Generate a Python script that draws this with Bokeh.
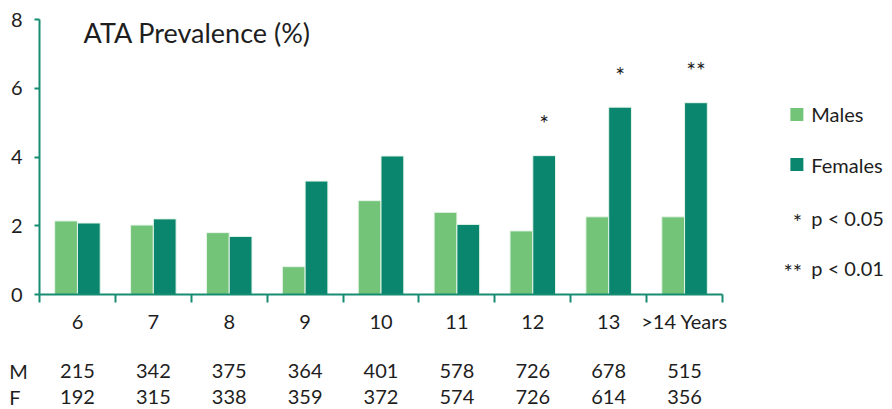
from bokeh.plotting import figure
from bokeh.models import Range1d, FixedTicker, ColumnDataSource
from bokeh.embed import file_html
from bokeh.resources import INLINE
from bokeh.core.properties import value

# ---- data ----
categories = ["6", "7", "8", "9", "10", "11", "12", "13", ">14 Years"]
males = [2.14, 2.02, 1.80, 0.81, 2.73, 2.39, 1.85, 2.26, 2.26]
females = [2.08, 2.20, 1.69, 3.30, 4.03, 2.04, 4.04, 5.45, 5.58]
significance = ["", "", "", "", "", "", "*", "*", "**"]
n_males = [215, 342, 375, 364, 401, 578, 726, 678, 515]
n_females = [192, 315, 338, 359, 372, 574, 726, 614, 356]
row_tags = ["M", "F"]
y_ticks = [0, 2, 4, 6, 8]
title_text = "ATA Prevalence (%)"
legend_series = ["Males", "Females"]
note_stars = ["*", "**"]
note_texts = ["p < 0.05", "p < 0.01"]

# ---- style ----
FONT = "Lato"
C_MALE = "#73C378"
C_FEMALE = "#0A866E"
C_AXIS = "#168C72"
C_TEXT = "#1E1E1E"
BAR_W = 0.3
W, H = 892, 409

n = len(categories)
centers = [i + 0.5 for i in range(n)]

p = figure(width=W, height=H, output_backend="svg", toolbar_location=None,
           x_range=Range1d(-0.514, 11.24), y_range=Range1d(-3.345, 8.553),
           min_border=0)
p.outline_line_color = None
p.grid.visible = False
p.background_fill_color = "white"
p.border_fill_color = "white"

src = ColumnDataSource(dict(
    xm=[c - BAR_W / 2 for c in centers],
    xf=[c + BAR_W / 2 for c in centers],
    males=males, females=females,
    sig=significance,
    sig_y=[f + 0.95 for f in females],
))
p.vbar(x="xm", top="males", width=BAR_W, bottom=0, source=src,
       fill_color=C_MALE, line_color="#E6F5EA", line_width=1)
p.vbar(x="xf", top="females", width=BAR_W, bottom=0, source=src,
       fill_color=C_FEMALE, line_color="#E6F5EA", line_width=1)
p.text(x="xf", y="sig_y", text="sig", source=src, text_align="center",
       text_baseline="middle", text_font=value(FONT), text_font_size="23px",
       text_color=C_TEXT)

# ---- axes ----
xa = p.xaxis[0]
xa.fixed_location = 0
xa.bounds = (0, n)
xa.ticker = FixedTicker(ticks=centers, minor_ticks=list(range(n + 1)))
xa.major_label_overrides = {c: lab for c, lab in zip(centers, categories)}
xa.major_tick_line_color = None
xa.major_tick_out = 0
xa.major_tick_in = 0
xa.minor_tick_line_color = C_AXIS
xa.minor_tick_line_width = 2
xa.minor_tick_out = 8
xa.minor_tick_in = 0
xa.axis_line_color = C_AXIS
xa.axis_line_width = 2
xa.major_label_standoff = 6
xa.major_label_text_font = FONT
xa.major_label_text_font_size = "20px"
xa.major_label_text_color = C_TEXT

ya = p.yaxis[0]
ya.fixed_location = 0
ya.bounds = (0, 8)
ya.ticker = FixedTicker(ticks=y_ticks, minor_ticks=[])
ya.major_tick_line_color = C_AXIS
ya.major_tick_line_width = 2
ya.major_tick_out = 5
ya.major_tick_in = 0
ya.minor_tick_line_color = None
ya.axis_line_color = C_AXIS
ya.axis_line_width = 2
ya.major_label_standoff = 12
ya.major_label_text_font = FONT
ya.major_label_text_font_size = "20px"
ya.major_label_text_color = C_TEXT

# ---- title ----
p.text(x=[0.58], y=[7.62], text=[title_text], text_baseline="middle",
       text_font=value(FONT), text_font_size="27px", text_color=C_TEXT)

# ---- legend ----
leg_src = ColumnDataSource(dict(x=[9.98, 9.98], y=[5.24, 3.78],
                                color=[C_MALE, C_FEMALE], lab=legend_series,
                                tx=[10.17, 10.17]))
p.scatter(x="x", y="y", marker="square", size=13, fill_color="color",
          line_color=None, source=leg_src)
p.text(x="tx", y="y", text="lab", source=leg_src, text_baseline="middle",
       text_font=value(FONT), text_font_size="20px", text_color=C_TEXT)
note_src = ColumnDataSource(dict(sx=[10.05, 10.05], tx=[10.17, 10.17],
                                 y=[2.24, 0.785], sy=[2.12, 0.665],
                                 stars=note_stars, txt=note_texts))
p.text(x="sx", y="sy", text="stars", source=note_src, text_align="right",
       text_baseline="middle", text_font=value(FONT), text_font_size="22px",
       text_color=C_TEXT)
p.text(x="tx", y="y", text="txt", source=note_src, text_align="left",
       text_baseline="middle", text_font=value(FONT), text_font_size="20px",
       text_color=C_TEXT)

# ---- sample size rows ----
row_y = [-2.22, -2.97]
for tag, counts, yy in zip(row_tags, [n_males, n_females], row_y):
    p.text(x=[-0.4], y=[yy], text=[tag], text_align="left",
           text_baseline="middle", text_font=value(FONT),
           text_font_size="20px", text_color=C_TEXT)
    p.text(x=centers, y=[yy] * n, text=[str(c) for c in counts],
           text_align="center", text_baseline="middle",
           text_font=value(FONT), text_font_size="20px", text_color=C_TEXT)

open("out.html", "w").write(file_html(p, INLINE))
